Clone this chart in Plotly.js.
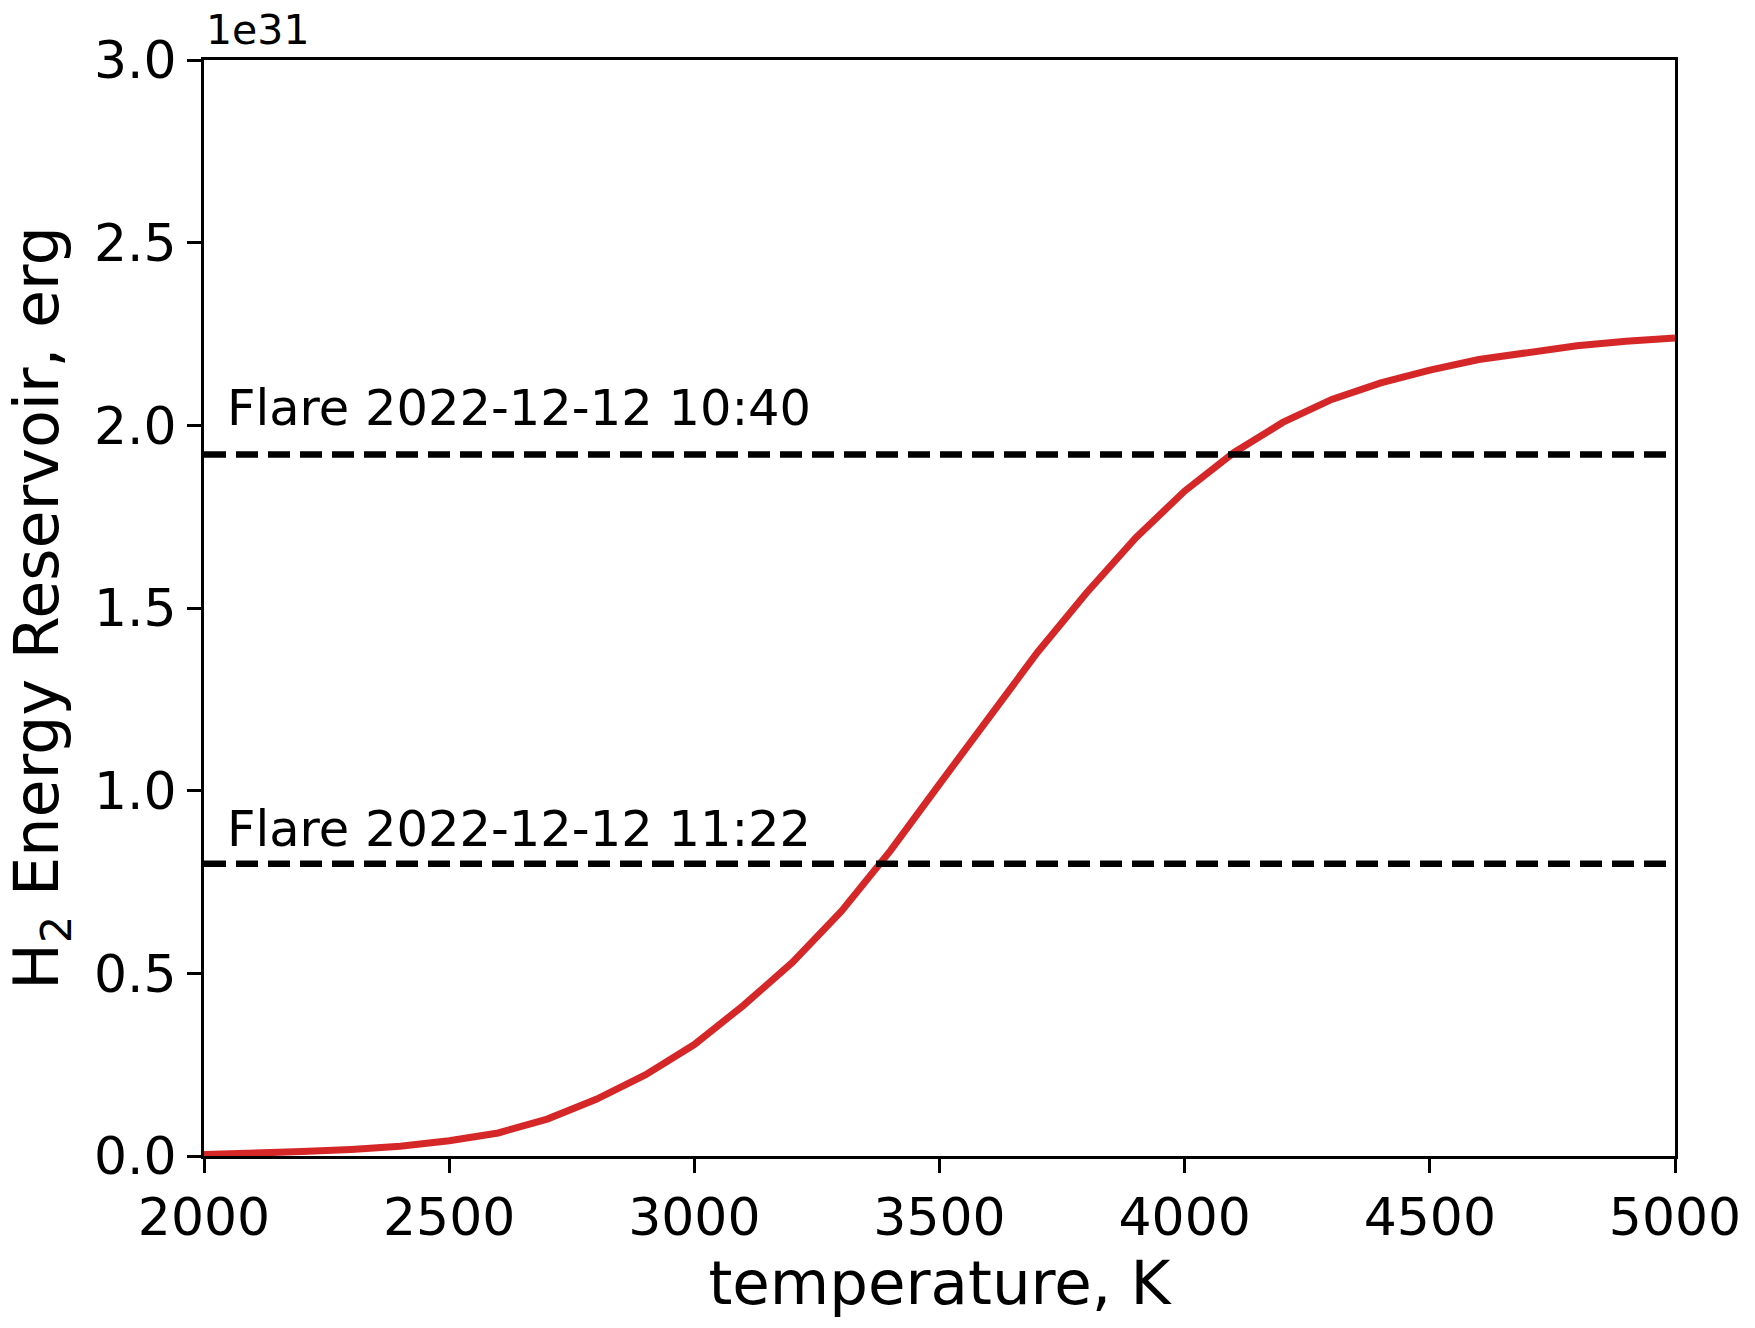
<!DOCTYPE html>
<html>
<head>
<meta charset="utf-8">
<script src="https://cdn.plot.ly/plotly-3.0.1.min.js"></script>
<style>html,body{margin:0;padding:0;background:#fff;}#chart{width:1755px;height:1328px;}</style>
</head>
<body>
<div id="chart"></div>
<script>
// Temperature (K)
const temperature = [2000, 2100, 2200, 2300, 2400, 2500, 2600, 2700, 2800, 2900, 3000,
  3100, 3200, 3300, 3400, 3500, 3600, 3700, 3800, 3900, 4000,
  4100, 4200, 4300, 4400, 4500, 4600, 4700, 4800, 4900, 5000];
// H2 energy reservoir (units of 1e31 erg)
const energyReservoir = [0.004, 0.007, 0.012, 0.018, 0.027, 0.042, 0.063, 0.101, 0.155, 0.222, 0.305,
  0.412, 0.530, 0.670, 0.836, 1.018, 1.195, 1.379, 1.542, 1.692, 1.820,
  1.925, 2.008, 2.071, 2.116, 2.151, 2.180, 2.201, 2.218, 2.230, 2.239];
// Flare energies (units of 1e31 erg)
const flareLabels = ["Flare 2022-12-12 10:40", "Flare 2022-12-12 11:22"];
const flareEnergies = [1.92, 0.80];
const flareLabelY = [2.047, 0.895];
const xTicks = [2000, 2500, 3000, 3500, 4000, 4500, 5000];
const yTicks = [0, 0.5, 1.0, 1.5, 2.0, 2.5, 3.0];
const yTickText = ["0.0", "0.5", "1.0", "1.5", "2.0", "2.5", "3.0"];
const xRange = [2000, 5000];
const yRange = [0, 3];

const FONT = "DejaVu Sans, Liberation Sans, sans-serif";

const traces = [{
  x: temperature, y: energyReservoir, type: 'scatter', mode: 'lines',
  line: {color: '#d62728', width: 7}, hoverinfo: 'x+y', showlegend: false
}];
flareEnergies.forEach(function (e) {
  traces.push({
    x: xRange, y: [e, e], type: 'scatter', mode: 'lines',
    line: {color: '#000000', width: 6.5, dash: '22px,10px'}, showlegend: false
  });
});

const annotations = flareLabels.map(function (t, i) {
  return {x: 2043, y: flareLabelY[i], xref: 'x', yref: 'y', text: t, showarrow: false,
    xanchor: 'left', yanchor: 'middle', font: {family: FONT, size: 49.5, color: '#000'}};
});
annotations.push({x: 0, y: 1.027, xref: 'paper', yref: 'paper', text: '1e31', showarrow: false,
  xanchor: 'left', yanchor: 'middle', font: {family: FONT, size: 41, color: '#000'}});

const layout = {
  width: 1755, height: 1328,
  margin: {l: 204, r: 80, t: 60, b: 172, pad: 0},
  paper_bgcolor: '#ffffff', plot_bgcolor: '#ffffff',
  font: {family: FONT, color: '#000'},
  showlegend: false,
  xaxis: {
    range: xRange, tickvals: xTicks, ticks: 'outside', ticklen: 14, tickwidth: 3, tickcolor: '#000',
    showline: true, linecolor: '#000', linewidth: 3, mirror: true,
    showgrid: false, zeroline: false, automargin: false,
    tickfont: {family: FONT, size: 52, color: '#000'},
    title: {text: 'temperature, K', font: {family: FONT, size: 61, color: '#000'}, standoff: 0}
  },
  yaxis: {
    range: yRange, tickvals: yTicks, ticktext: yTickText, ticks: 'outside', ticklen: 14, tickwidth: 3, tickcolor: '#000',
    showline: true, linecolor: '#000', linewidth: 3, mirror: true,
    showgrid: false, zeroline: false, automargin: false,
    tickfont: {family: FONT, size: 52, color: '#000'},
    title: {text: 'H<sub>2</sub> Energy Reservoir, erg', font: {family: FONT, size: 62, color: '#000'}, standoff: 18}
  },
  annotations: annotations
};

Plotly.newPlot('chart', traces, layout, {displayModeBar: false, staticPlot: true});
</script>
</body>
</html>
